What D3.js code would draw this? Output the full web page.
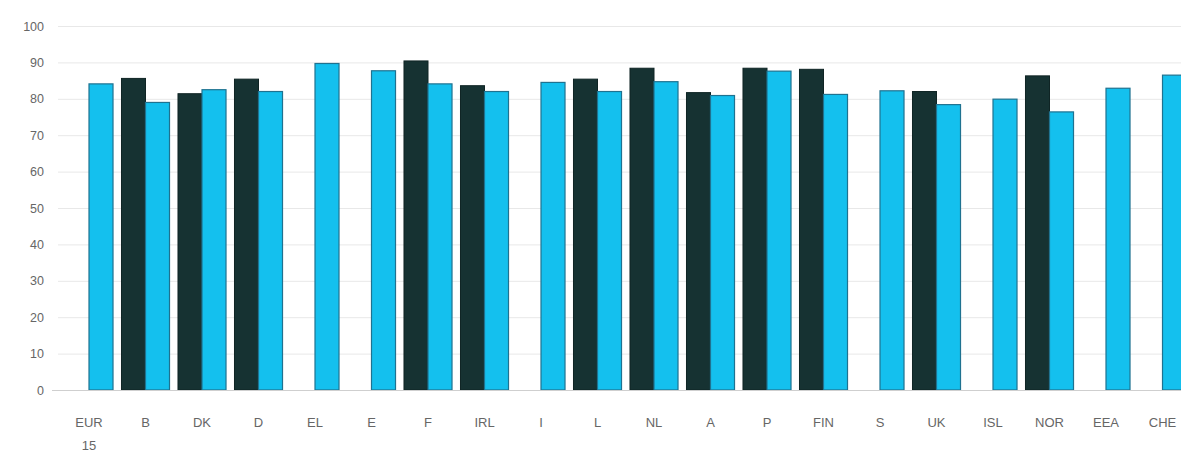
<!DOCTYPE html>
<html><head><meta charset="utf-8">
<script src="https://cdn.jsdelivr.net/npm/d3@7"></script>
<style>body{margin:0;background:#fff;overflow:hidden}svg{display:block}</style>
</head><body><svg id="c" width="1181" height="455"></svg>
<script>
const categories = ["EUR 15","B","DK","D","EL","E","F","IRL","I","L","NL","A","P","FIN","S","UK","ISL","NOR","EEA","CHE"];
const darkSeries = [null,85.6,81.4,85.4,null,null,90.4,83.6,null,85.4,88.4,81.7,88.4,88.1,null,82.0,null,86.3,null,null];
const lightSeries = [84.1,79.0,82.5,82.0,89.7,87.7,84.1,82.0,84.5,82.0,84.7,80.9,87.6,81.2,82.2,78.4,79.9,76.4,82.9,86.5];
const yTicks = [0,10,20,30,40,50,60,70,80,90,100];

const svg = d3.select("#c");
const x = d3.scaleBand().domain(categories).range([60.75, 60.75 + 56.5*categories.length]).paddingInner(0.15).paddingOuter(0.075);
const y = d3.scaleLinear().domain([0,100]).range([390,26]);

// gridlines
svg.append("g").selectAll("line").data(yTicks.filter(d=>d>0)).join("line")
  .attr("x1",58).attr("x2",1181).attr("y1",d=>y(d)+0.5).attr("y2",d=>y(d)+0.5)
  .attr("stroke","#e8e8e8").attr("stroke-width",1);

// y axis labels
const yAxis = d3.axisLeft(y).tickValues(yTicks).tickSize(0).tickPadding(0);
const gy = svg.append("g").attr("transform","translate(44,0)").call(yAxis);
gy.select(".domain").remove();
gy.selectAll("text").attr("font-family","Liberation Sans, Arial, sans-serif").attr("font-size",12.5).attr("fill","#666");

const bw = x.bandwidth()/2;
const groups = svg.append("g");
// dark bars
groups.selectAll("rect.dark").data(categories.map((c,i)=>({c,v:darkSeries[i]})).filter(d=>d.v!=null)).join("rect")
  .attr("class","dark").attr("x",d=>x(d.c)).attr("width",bw)
  .attr("y",d=>y(d.v)).attr("height",d=>y(0)-y(d.v))
  .attr("fill","#163232").attr("stroke","#0f2424").attr("stroke-width",1);
// light bars
groups.selectAll("rect.light").data(categories.map((c,i)=>({c,v:lightSeries[i]}))).join("rect")
  .attr("class","light").attr("x",d=>x(d.c)+bw).attr("width",bw)
  .attr("y",d=>y(d.v)).attr("height",d=>y(0)-y(d.v))
  .attr("fill","#14c0ee").attr("stroke","#1f7290").attr("stroke-width",1.2);

// baseline
svg.append("line").attr("x1",52).attr("x2",1181).attr("y1",390.5).attr("y2",390.5).attr("stroke","#cfcfcf");

// x axis labels
const xAxis = d3.axisBottom(x).tickSize(0).tickPadding(0);
const gx = svg.append("g").attr("transform","translate(0,418)").call(xAxis);
gx.select(".domain").remove();
gx.selectAll(".tick text").attr("font-family","Liberation Sans, Arial, sans-serif").attr("font-size",13).attr("fill","#666")
  .each(function(d){
    const t = d3.select(this);
    const parts = d.split(" ");
    t.text(null);
    parts.forEach((p,i)=>t.append("tspan").attr("x",0).attr("dy",i===0?"0.71em":"23px").text(p));
  });
</script></body></html>
